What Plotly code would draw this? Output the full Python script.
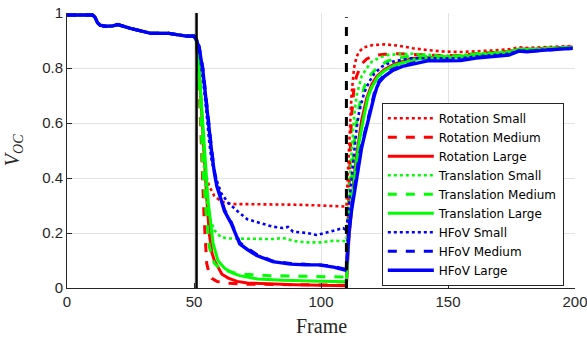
import plotly.graph_objects as go

# ---------------- data ----------------
# shared beginning (all nine curves coincide up to frame ~50)
common_frames = [0, 10, 11, 12, 13, 15, 18, 20, 25, 30, 33, 40, 44, 47, 50]
common_voc = [0.993, 0.993, 0.985, 0.965, 0.956, 0.952, 0.953, 0.958, 0.944, 0.932, 0.926, 0.926, 0.92, 0.916, 0.916]

late_frames = [142, 148, 155, 161, 168, 174, 178, 181, 187, 193, 199]

rot_small_f = [51, 52, 53, 54, 55, 56, 58, 60, 62, 65, 70, 80, 90, 100, 105, 110, 111, 112, 113, 114, 115, 117, 120, 125, 130, 136]
rot_small_v = [0.90, 0.78, 0.60, 0.45, 0.40, 0.37, 0.335, 0.32, 0.31, 0.305, 0.305, 0.305, 0.303, 0.30, 0.298, 0.296, 0.50, 0.70, 0.80, 0.84, 0.86, 0.875, 0.883, 0.886, 0.882, 0.872]
rot_small_late = [0.865, 0.860, 0.858, 0.860, 0.864, 0.868, 0.875, 0.873, 0.876, 0.877, 0.880]

rot_med_f = [51, 52, 53, 54, 55, 56, 57, 59, 62, 70, 90, 110, 111, 112, 113, 114, 116, 118, 121, 125, 130, 136]
rot_med_v = [0.90, 0.74, 0.46, 0.25, 0.09, 0.05, 0.035, 0.024, 0.018, 0.014, 0.012, 0.01, 0.35, 0.62, 0.73, 0.77, 0.815, 0.833, 0.845, 0.85, 0.852, 0.85]
rot_med_late = [0.848, 0.845, 0.846, 0.852, 0.856, 0.860, 0.870, 0.868, 0.871, 0.873, 0.877]

rot_large_f = [51, 52, 53, 54, 55, 56, 57, 58, 59.5, 61, 63.5, 67, 71, 80, 90, 100, 110, 111, 112, 113, 114, 115, 116, 118, 120, 122, 125, 129, 136]
rot_large_v = [0.90, 0.80, 0.64, 0.46, 0.33, 0.20, 0.13, 0.10, 0.072, 0.05, 0.036, 0.024, 0.018, 0.014, 0.012, 0.01, 0.008, 0.18, 0.30, 0.40, 0.48, 0.55, 0.61, 0.69, 0.74, 0.77, 0.795, 0.815, 0.835]
rot_large_late = [0.838, 0.840, 0.842, 0.848, 0.853, 0.857, 0.868, 0.866, 0.870, 0.872, 0.876]

tr_small_f = [51, 52, 53, 54, 55, 56, 58, 60.6, 64, 68, 75, 81, 85, 90, 95, 100, 105, 110, 111, 112, 113, 114, 116, 118, 120, 123, 126, 130, 136]
tr_small_v = [0.90, 0.80, 0.62, 0.44, 0.32, 0.26, 0.21, 0.185, 0.18, 0.18, 0.18, 0.178, 0.182, 0.17, 0.166, 0.166, 0.172, 0.17, 0.35, 0.50, 0.62, 0.70, 0.77, 0.80, 0.823, 0.838, 0.847, 0.85, 0.852]
tr_small_late = [0.848, 0.845, 0.846, 0.853, 0.856, 0.860, 0.870, 0.868, 0.871, 0.873, 0.877]

tr_med_f = [51, 52, 53, 53.5, 55, 56, 58, 60, 62, 66, 70, 80, 90, 100, 110, 111, 112, 113, 114, 115, 117, 119, 122, 126, 130, 136]
tr_med_v = [0.90, 0.78, 0.55, 0.43, 0.25, 0.15, 0.09, 0.072, 0.065, 0.055, 0.05, 0.045, 0.043, 0.042, 0.04, 0.25, 0.40, 0.52, 0.60, 0.66, 0.73, 0.77, 0.80, 0.825, 0.835, 0.845]
tr_med_late = [0.843, 0.842, 0.844, 0.850, 0.854, 0.858, 0.869, 0.867, 0.870, 0.872, 0.876]

tr_large_f = [51, 52, 53, 54.2, 55.5, 57.5, 59.4, 62, 65, 68, 75, 85, 100, 110, 111, 112, 113, 114, 115, 116.6, 118.5, 120, 122.5, 125, 129, 136]
tr_large_v = [0.90, 0.80, 0.65, 0.50, 0.32, 0.163, 0.10, 0.072, 0.055, 0.045, 0.033, 0.028, 0.025, 0.023, 0.20, 0.30, 0.38, 0.46, 0.53, 0.61, 0.695, 0.73, 0.77, 0.79, 0.81, 0.83]
tr_large_late = [0.836, 0.838, 0.840, 0.847, 0.852, 0.856, 0.868, 0.866, 0.869, 0.872, 0.875]

hf_small_f = [51, 52, 53, 54, 55, 56, 57, 59, 60.7, 63.4, 67.3, 71, 74.7, 81, 85, 87, 89, 94.4, 98.3, 101, 103.5, 108.7, 110, 111, 112, 113, 114, 115, 117, 119, 121, 124, 128, 132, 136]
hf_small_v = [0.91, 0.87, 0.80, 0.72, 0.63, 0.53, 0.46, 0.39, 0.345, 0.31, 0.278, 0.25, 0.24, 0.223, 0.218, 0.222, 0.205, 0.20, 0.193, 0.198, 0.205, 0.218, 0.21, 0.30, 0.40, 0.50, 0.58, 0.64, 0.71, 0.75, 0.78, 0.805, 0.823, 0.83, 0.836]
hf_small_late = [0.835, 0.834, 0.835, 0.842, 0.848, 0.852, 0.864, 0.862, 0.866, 0.869, 0.873]

hf_med_f = [51, 52, 53.5, 55, 56, 57, 58, 59, 60.7, 62, 64.6, 68, 71, 74.7, 81, 88, 94, 99, 105, 109.5, 110, 111, 112, 113, 114, 115, 116, 117, 118, 119, 120, 121, 122, 123, 125, 128, 132, 136]
hf_med_v = [0.90, 0.88, 0.80, 0.66, 0.57, 0.50, 0.43, 0.375, 0.325, 0.285, 0.24, 0.165, 0.145, 0.122, 0.098, 0.089, 0.086, 0.085, 0.078, 0.068, 0.072, 0.21, 0.29, 0.35, 0.42, 0.48, 0.52, 0.56, 0.60, 0.64, 0.68, 0.71, 0.735, 0.755, 0.775, 0.795, 0.808, 0.818]
hf_med_late = [0.827, 0.828, 0.829, 0.838, 0.843, 0.848, 0.862, 0.860, 0.864, 0.867, 0.871]

hf_large_f = [51, 52, 53.5, 55, 56, 57, 58, 59, 60.7, 62, 64.6, 68, 71, 74.7, 81, 88, 94, 99, 105, 109.5, 110, 111, 112, 113, 114, 115, 116, 117, 118, 119, 120, 121, 122, 123, 125, 128, 132, 136]
hf_large_v = [0.90, 0.875, 0.79, 0.66, 0.56, 0.49, 0.42, 0.37, 0.32, 0.28, 0.236, 0.16, 0.14, 0.118, 0.096, 0.087, 0.084, 0.084, 0.076, 0.065, 0.07, 0.20, 0.28, 0.34, 0.41, 0.47, 0.51, 0.55, 0.59, 0.63, 0.67, 0.70, 0.73, 0.75, 0.77, 0.79, 0.806, 0.815]
hf_large_late = [0.826, 0.826, 0.827, 0.836, 0.842, 0.847, 0.862, 0.859, 0.864, 0.867, 0.872]

series_names = ["Rotation Small", "Rotation Medium", "Rotation Large",
                "Translation Small", "Translation Medium", "Translation Large",
                "HFoV Small", "HFoV Medium", "HFoV Large"]
series_frames = [rot_small_f, rot_med_f, rot_large_f, tr_small_f, tr_med_f, tr_large_f,
                 hf_small_f, hf_med_f, hf_large_f]
series_values = [rot_small_v, rot_med_v, rot_large_v, tr_small_v, tr_med_v, tr_large_v,
                 hf_small_v, hf_med_v, hf_large_v]
series_late = [rot_small_late, rot_med_late, rot_large_late, tr_small_late, tr_med_late,
               tr_large_late, hf_small_late, hf_med_late, hf_large_late]

event_frames = [51, 110]          # solid / dashed black markers
x_ticks = [0, 50, 100, 150, 200]
y_ticks = [0, 0.2, 0.4, 0.6, 0.8, 1]
y_tick_labels = ["0", "0.2", "0.4", "0.6", "0.8", "1"]

# ---------------- styles ----------------
colors = ["#FF0000"] * 3 + ["#00FF00"] * 3 + ["#0000FF"] * 3
dashes = ["dot", "dash", "solid"] * 3
widths = [2.6, 3, 3, 2.6, 3, 3, 2.6, 3, 3.4]

fig = go.Figure()
for name, fr, vv, late, c, d, w in zip(series_names, series_frames, series_values,
                                       series_late, colors, dashes, widths):
    fig.add_trace(go.Scatter(
        x=common_frames + fr + late_frames,
        y=common_voc + vv + late,
        mode="lines", name=name,
        line=dict(color=c, dash=d, width=w),
    ))

fig.add_shape(type="line", xref="x", yref="paper", x0=event_frames[0], x1=event_frames[0],
              y0=0, y1=1, line=dict(color="black", width=2.5), layer="above")
fig.add_shape(type="line", xref="x", yref="paper", x0=event_frames[1], x1=event_frames[1],
              y0=0, y1=0.985, line=dict(color="black", width=3, dash="dash"), layer="above")

tickfont = dict(family="Liberation Sans, Arial, sans-serif", size=15, color="#262626")
axis_common = dict(showgrid=True, gridcolor="#e3e3e3", gridwidth=1, zeroline=False,
                   showline=True, linecolor="#262626", linewidth=1, automargin=False,
                   ticks="inside", ticklen=5, tickcolor="#262626", tickfont=tickfont,
                   ticklabeloverflow="allow")
fig.update_layout(
    width=587, height=337,
    margin=dict(l=67, r=12, t=13, b=49, autoexpand=False),
    paper_bgcolor="white", plot_bgcolor="white",
    showlegend=True,
    legend=dict(
        x=0.978, xanchor="right", y=0.008, yanchor="bottom",
        bgcolor="white", bordercolor="#262626", borderwidth=1,
        font=dict(family="DejaVu Sans, Liberation Sans, sans-serif", size=12, color="black"),
        itemwidth=46, tracegroupgap=0,
    ),
    xaxis=dict(range=[0, 200], tickvals=x_ticks, ticktext=[str(t) for t in x_ticks], **axis_common),
    yaxis=dict(range=[0, 1], tickvals=y_ticks, ticktext=y_tick_labels, **axis_common),
    annotations=[
        dict(text="Frame", xref="paper", yref="paper", x=0.5, y=-0.09,
             xanchor="center", yanchor="top", showarrow=False,
             font=dict(family="Liberation Serif, Times New Roman, serif", size=20, color="#262626")),
        dict(text="<i>V</i><sub><i>OC</i></sub>", xref="paper", yref="paper",
             x=-0.105, y=0.5, xanchor="center", yanchor="middle", showarrow=False, textangle=-90,
             font=dict(family="Liberation Serif, Times New Roman, serif", size=20, color="#262626")),
    ],
)

fig.write_html("out.html", config={"displayModeBar": False},
               post_script="document.body.style.margin='0';document.body.style.overflow='hidden';")
